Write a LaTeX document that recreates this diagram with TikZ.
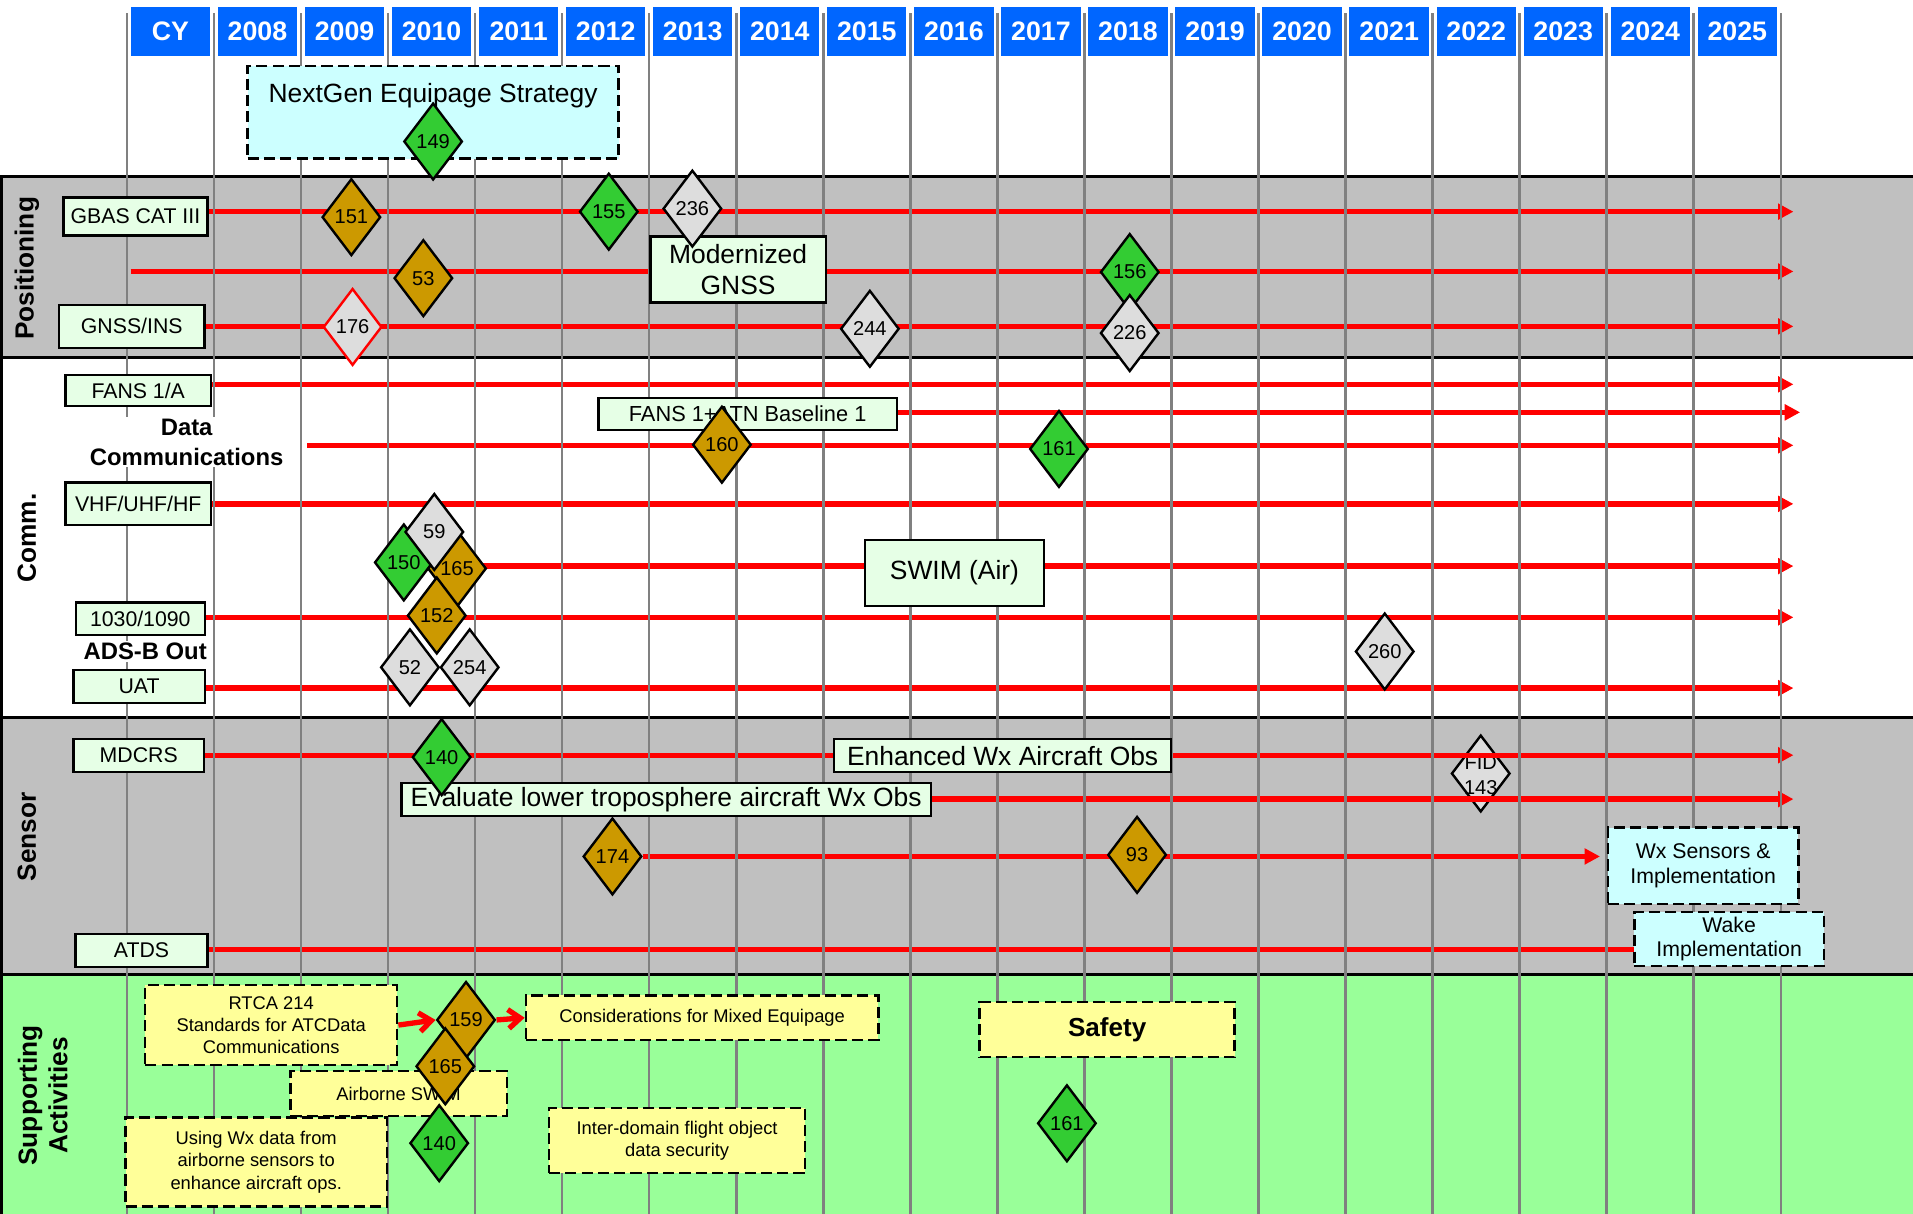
\documentclass[tikz,border=0pt]{standalone}
\usepackage{fontspec}
\setmainfont{Liberation Sans}
\usetikzlibrary{shapes.geometric,arrows.meta,positioning}

\definecolor{hdrblue}{HTML}{0066FF}
\definecolor{bandgray}{HTML}{C0C0C0}
\definecolor{bandgreen}{HTML}{99FF99}
\definecolor{mint}{HTML}{E6FFE6}
\definecolor{palecyan}{HTML}{CCFFFF}
\definecolor{paleyellow}{HTML}{FFFF99}
\definecolor{clrgold}{HTML}{CC9900}
\definecolor{clrgreen}{HTML}{33CC33}
\definecolor{clrgray}{HTML}{DDDDDD}
\definecolor{gridgray}{HTML}{808080}

\pgfdeclarelayer{bands}
\pgfdeclarelayer{lines}
\pgfdeclarelayer{grid}
\pgfsetlayers{bands,lines,grid,main}

\newcommand{\px}{0.25mm}

\tikzset{
  yearbox/.style={fill=hdrblue, text=white, inner sep=0pt,
    minimum width=65*\px, minimum height=40*\px,
    font=\fontsize{15.6}{18}\selectfont\bfseries},
  bandlabel/.style={rotate=90, align=center,
    font=\fontsize{15.3}{17.8}\selectfont\bfseries},
  rowbox/.style={draw, line width=1.4pt, fill=mint, inner sep=0pt,
    font=\fontsize{12.4}{15}\selectfont},
  bigbox/.style={rowbox, align=center, font=\fontsize{15.4}{18.5}\selectfont},
  planbox/.style={draw, dash pattern=on 6.5pt off 3pt, line width=1.4pt,
    inner sep=0pt, align=center},
  wxbox/.style={planbox, fill=palecyan, font=\fontsize{12.4}{14.2}\selectfont},
  taskbox/.style={planbox, fill=paleyellow, font=\fontsize{10.7}{13}\selectfont},
  stone/.style={diamond, draw, line width=1.4pt, inner sep=0pt,
    minimum width=48*\px, minimum height=63*\px,
    font=\fontsize{11.7}{15}\selectfont},
  goldstone/.style={stone, fill=clrgold},
  greenstone/.style={stone, fill=clrgreen},
  graystone/.style={stone, fill=clrgray},
  timeline/.style={red, line width=3.1pt},
  flow/.style={timeline, -{Triangle[length=9pt,width=9pt]}},
  handoff/.style={timeline, -{Straight Barb[length=7pt,width=11pt]}},
}

\begin{document}
\begin{tikzpicture}[x=0.25mm, y=-0.25mm]
\useasboundingbox (0,0) rectangle (1568,995);

\foreach \yr [count=\i from 0] in {CY,2008,2009,2010,2011,2012,2013,2014,2015,2016,2017,2018,2019,2020,2021,2022,2023,2024,2025}{
  \pgfmathsetmacro{\hx}{139.7+71.35*\i}
  \node[yearbox] (yr\i) at (\hx,26) {\yr};
}

\node[bandlabel] (positioning) at (22,220) {Positioning};
\node[bandlabel] (comm) at (22,441) {Comm.};
\node[bandlabel] (sensor) at (22,686) {Sensor};
\node[bandlabel] (support) at (35,898) {Supporting\\Activities};

\node[rowbox, minimum width=118*\px, minimum height=31*\px] (gbas) at (111,177.5) {GBAS CAT III};
\node[rowbox, minimum width=119*\px, minimum height=35*\px] (gnssins) at (108,267.5) {GNSS/INS};
\node[rowbox, minimum width=119*\px, minimum height=25.5*\px] (fans) at (113.3,320) {FANS 1/A};
\node[rowbox, minimum width=119*\px, minimum height=35*\px] (vhf) at (113.3,413) {VHF/UHF/HF};
\node[rowbox, minimum width=105.6*\px, minimum height=26.6*\px] (modes) at (115,507.3) {1030/1090};
\node[rowbox, minimum width=107.6*\px, minimum height=27*\px] (uat) at (114,562.5) {UAT};
\node[rowbox, minimum width=106.6*\px, minimum height=27*\px] (mdcrs) at (113.7,619.3) {MDCRS};
\node[rowbox, minimum width=108*\px, minimum height=27*\px] (atds) at (116,779) {ATDS};

\node[fill=white, inner sep=1pt, align=center, font=\fontsize{13.9}{17.2}\selectfont\bfseries] (datacomm) at (153,362.5) {Data\\Communications};
\node[fill=white, inner sep=1pt, font=\fontsize{13.9}{17}\selectfont\bfseries] (adsbout) at (119,534) {ADS-B Out};

\node[planbox, fill=palecyan, minimum width=304*\px, minimum height=76*\px,
  text height=7.5mm, text depth=11.5mm, font=\fontsize{15.4}{18}\selectfont] (strategy) at (355,92) {NextGen Equipage Strategy};
\node[bigbox, minimum width=143.6*\px, minimum height=54*\px] (modgnss) at (605,221) {Modernized\\GNSS};
\node[rowbox, minimum width=244.5*\px, minimum height=26.5*\px, font=\fontsize{12.7}{15}\selectfont] (fansatn) at (612.8,339.3) {FANS 1+ATN Baseline 1};
\node[bigbox, minimum width=146.5*\px, minimum height=54*\px] (swim) at (782.3,469.7) {SWIM (Air)};
\node[bigbox, minimum width=276.4*\px, minimum height=27*\px] (enhanced) at (821.8,619.3) {Enhanced Wx Aircraft Obs};
\node[bigbox, minimum width=434*\px, minimum height=27.5*\px] (evaluate) at (546,655.3) {Evaluate lower troposphere aircraft Wx Obs};
\node[wxbox, minimum width=156*\px, minimum height=62.6*\px] (wxsens) at (1396,709.7) {Wx Sensors \&\\Implementation};
\node[wxbox, minimum width=155.5*\px, minimum height=44*\px] (wake) at (1417.3,769.7) {Wake\\Implementation};

\node[taskbox, minimum width=206.5*\px, minimum height=65.6*\px] (rtca) at (222.3,840.2) {RTCA 214\\Standards for ATCData\\Communications};
\node[taskbox, minimum width=177.3*\px, minimum height=36.5*\px] (airswim) at (326.7,896.3) {Airborne SWIM};
\node[taskbox, minimum width=214*\px, minimum height=73*\px] (usingwx) at (210,952.5) {Using Wx data from\\airborne sensors to\\enhance aircraft ops.};
\node[taskbox, minimum width=289*\px, minimum height=36.7*\px] (mixed) at (575.5,834.2) {Considerations for Mixed Equipage};
\node[taskbox, minimum width=210*\px, minimum height=53.6*\px] (interdom) at (555,934.8) {Inter-domain flight object\\data security};
\node[taskbox, minimum width=209*\px, minimum height=45*\px, font=\fontsize{15.2}{18}\selectfont\bfseries] (safety) at (907.5,844) {Safety};

\node[greenstone] (d149) at (355,116) {149};
\node[goldstone] (d151) at (288,178) {151};
\node[greenstone] (d155) at (499,173.5) {155};
\node[graystone] (d236) at (567.5,171) {236};
\node[goldstone] (d53) at (347,228) {53};
\node[greenstone] (d156) at (926,223) {156};
\node[graystone, draw=red] (d176) at (289,268) {176};
\node[graystone] (d244) at (713,269.5) {244};
\node[graystone] (d226) at (926,273) {226};

\node[goldstone] (d160) at (591.7,364.5) {160};
\node[greenstone] (d161) at (868,368) {161};
\node[greenstone] (d150) at (331,461) {150};
\node[goldstone] (d165) at (374.6,466) {165};
\node[graystone] (d59) at (356,436) {59};
\node[goldstone] (d152) at (358,504.5) {152};
\node[graystone] (d52) at (336,547) {52};
\node[graystone] (d254) at (385,547) {254};
\node[graystone] (d260) at (1135,534) {260};

\node[greenstone] (d140) at (362,620.6) {140};
\node[goldstone] (d174) at (502,702) {174};
\node[goldstone] (d93) at (932,700.7) {93};

\node[goldstone] (d159) at (382,836) {159};
\node[goldstone] (d165b) at (365,874) {165};
\node[greenstone] (d140b) at (360,937) {140};
\node[greenstone] (d161b) at (874.5,920.7) {161};

\begin{pgfonlayer}{bands}
\fill[bandgray] (0,145) rectangle (1568,293);
\fill[bandgray] (0,588) rectangle (1568,799);
\fill[bandgreen] (0,799) rectangle (1568,995);
\draw[line width=1.7pt] (0,145) -- (1568,145) (0,293) -- (1568,293)
  (0,588) -- (1568,588) (0,799) -- (1568,799);
\draw[line width=1.7pt] (1,145) -- (1,995);
\node[graystone] (dfid) at (1213.7,634) {\raisebox{-5pt}[0pt][0pt]{\makebox[0pt]{\begin{tabular}{@{}c@{}}FID\\143\end{tabular}}}};
\end{pgfonlayer}

\begin{pgfonlayer}{lines}
\coordinate (gbasend) at (1470,173.5);
\coordinate (gnssstart) at (107,222.5);
\coordinate (gnssend) at (1470,222.5);
\coordinate (insend) at (1470,267.5);
\coordinate (fansend) at (1470,315);
\coordinate (atnend) at (1475.5,338);
\coordinate (dcstart) at (251.7,365);
\coordinate (dcend) at (1470,365);
\coordinate (vhfend) at (1470,413);
\coordinate (swimend) at (1470,464);
\coordinate (modesend) at (1470,506);
\coordinate (uatend) at (1470,564);
\coordinate (mdcrsend) at (1470,619);
\coordinate (evalend) at (1470,655);
\coordinate (atdsend) at (1380,778);
\draw[flow] (gbas.east |- gbasend) -- (gbasend);
\draw[flow] (gnssstart) -- (gnssend);
\draw[flow] (gnssins.east |- insend) -- (insend);
\draw[flow] (fans.east |- fansend) -- (fansend);
\draw[flow] (fansatn.east |- atnend) -- (atnend);
\draw[flow] (dcstart) -- (dcend);
\draw[flow] (vhf.east |- vhfend) -- (vhfend);
\draw[flow] (d165 |- swimend) -- (swimend);
\draw[flow] (modes.east |- modesend) -- (modesend);
\draw[flow] (uat.east |- uatend) -- (uatend);
\draw[flow] (mdcrs.east |- mdcrsend) -- (mdcrsend);
\draw[flow] (evaluate.east |- evalend) -- (evalend);
\draw[flow, shorten >=1.4mm] (d174) -- (d174 -| wxsens.west);
\draw[timeline] (atds.east |- atdsend) -- (atdsend);
\draw[handoff] (rtca.east) -- (d159.west);
\draw[handoff] (d159.east) -- (mixed.west);
\end{pgfonlayer}

\begin{pgfonlayer}{grid}
\foreach \i in {0,...,19}{
  \pgfmathsetmacro{\gx}{104+71.35*\i}
  \draw[gridgray, line width=1.5pt] (\gx,11) -- (\gx,995);
}
\end{pgfonlayer}
\end{tikzpicture}
\end{document}
